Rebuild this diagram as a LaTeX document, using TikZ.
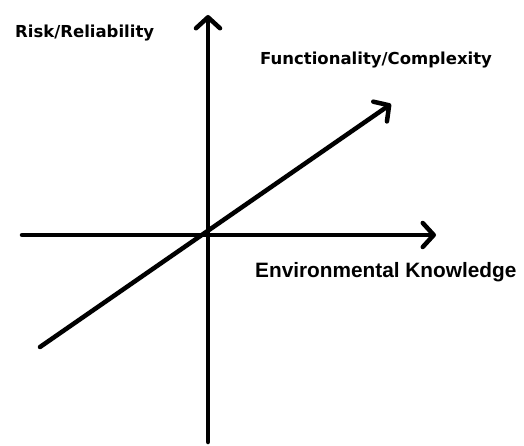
\documentclass[tikz,border=0pt]{standalone}
\usepackage{fontspec}
\setmainfont{Liberation Sans}
\newfontfamily\labfont{DejaVu Sans}
\usetikzlibrary{arrows.meta}
\tikzset{
  axis/.style={line width=4.5pt, line cap=round, -{Straight Barb[length=11pt,width=24pt,line cap=round,line join=round]}},
  smalllab/.style={anchor=west, inner sep=0pt, font=\labfont\bfseries\fontsize{16.5}{19}\selectfont},
  biglab/.style={anchor=west, inner sep=0pt, font=\bfseries\fontsize{20.8}{24}\selectfont}
}
\begin{document}
\begin{tikzpicture}[x=1pt,y=-1pt]
\useasboundingbox (0,0) rectangle (524,446);
\coordinate (O) at (208,235);
\coordinate (vtop) at (208,15);
\coordinate (vbot) at (208,442);
\coordinate (hleft) at (22,235);
\coordinate (hright) at (436,235);
\coordinate (dlow) at (40,347);
\coordinate (dhigh) at (391,104);
\draw[axis] (vbot) -- (vtop);
\draw[axis] (hleft) -- (hright);
\draw[axis] (dlow) -- (dhigh);
\node[smalllab] (rr) at (15,33) {Risk/Reliability};
\node[smalllab] (fc) at (260,60) {Functionality/Complexity};
\node[biglab] (ek) at (255,272) {Environmental Knowledge};
\end{tikzpicture}
\end{document}
